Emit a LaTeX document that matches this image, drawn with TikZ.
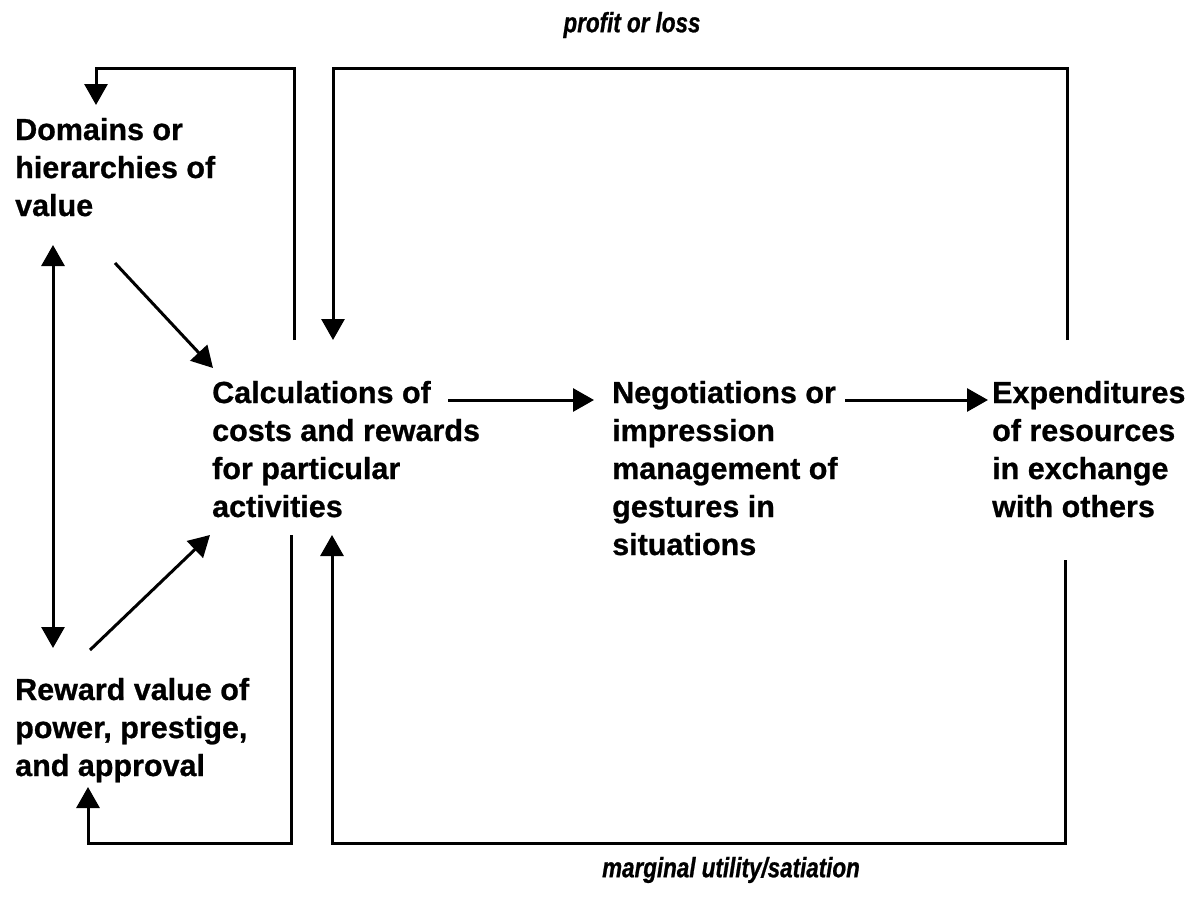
\documentclass[tikz,border=0pt]{standalone}
\usepackage{fontspec}
\setmainfont{Liberation Sans}[BoldFeatures={FakeBold=0.8}]
\newfontfamily\notefont{Liberation Sans}[FakeStretch=0.8,BoldItalicFeatures={FakeBold=0.8}]
\usetikzlibrary{arrows.meta}
\begin{document}
\begin{tikzpicture}[x=1pt,y=-1pt,
  stage/.style={anchor=base west, align=left, inner sep=0pt,
    font=\bfseries\fontsize{30.5}{38}\selectfont},
  note/.style={inner sep=0pt, font=\notefont\bfseries\itshape\fontsize{28}{30}\selectfont},
  link/.style={line width=3pt, -{Triangle[length=21pt,width=23pt]}},
  dlink/.style={line width=3pt, {Triangle[length=21pt,width=23pt]}-{Triangle[length=21pt,width=23pt]}}]
\useasboundingbox (0,0) rectangle (1203,897);

% stages of the exchange process (each node sits on the baseline of its last line)
\node[stage] (dom)  at (15,216)  {Domains or\\hierarchies of\\value};
\node[stage] (calc) at (212,517) {Calculations of\\costs and rewards\\for particular\\activities};
\node[stage] (neg)  at (612,555) {Negotiations or\\impression\\management of\\gestures in\\situations};
\node[stage] (expd) at (992,517) {Expenditures\\of resources\\in exchange\\with others};
\node[stage] (rew)  at (15,776)  {Reward value of\\power, prestige,\\and approval};

% feedback labels
\node[note] (profit) at (632,25)  {profit or loss};
\node[note] (marg)   at (731,870) {marginal utility/satiation};

% connector end points
\coordinate (dom-in)     at (96,105);
\coordinate (dom-out)    at (115,263);
\coordinate (dom-up)     at (53,245);
\coordinate (rew-down)   at (53,648);
\coordinate (rew-out)    at (90,650);
\coordinate (rew-in)     at (88,787);
\coordinate (calc-nw)    at (213,368);
\coordinate (calc-sw)    at (210,535);
\coordinate (calc-top)   at (294,340);
\coordinate (calc-topin) at (333,340);
\coordinate (calc-bot)   at (291,535);
\coordinate (calc-botin) at (332,535);
\coordinate (calc-e)     at (448,400);
\coordinate (neg-w)      at (594,400);
\coordinate (neg-e)      at (845,400);
\coordinate (expd-w)     at (988,400);
\coordinate (expd-top)   at (1067,340);
\coordinate (expd-bot)   at (1065,560);

% forward flow
\draw[link] (dom-out) -- (calc-nw);
\draw[link] (rew-out) -- (calc-sw);
\draw[dlink] (dom-up) -- (rew-down);
\draw[link] (calc-e) -- (neg-w);
\draw[link] (neg-e) -- (expd-w);

% feedback loops
\draw[link] (calc-top) |- (96,68) -- (dom-in);
\draw[link] (expd-top) |- (333,68) -- (calc-topin);
\draw[link] (calc-bot) |- (88,843) -- (rew-in);
\draw[link] (expd-bot) |- (332,843) -- (calc-botin);
\end{tikzpicture}
\end{document}
